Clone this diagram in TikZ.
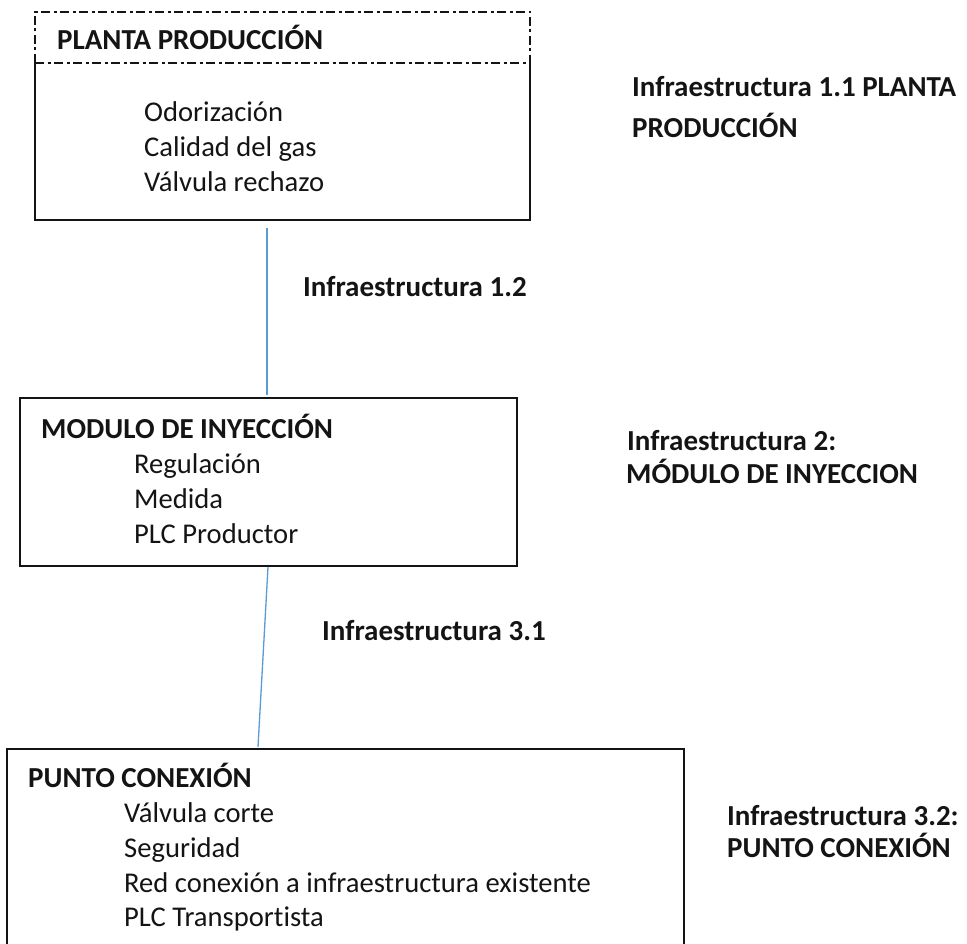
\documentclass[tikz,border=0pt]{standalone}
\usepackage{fontspec}
\setmainfont{Carlito}[Ligatures=NoCommon]
\definecolor{linkblue}{RGB}{91,155,213}
\definecolor{inkgray}{RGB}{20,20,20}
\begin{document}
\begin{tikzpicture}[x=1pt,y=-1pt,
  frame/.style={inner sep=0pt, outer sep=0pt, anchor=north west},
  edge/.style={draw=inkgray, line width=1.3pt},
  dashdot/.style={draw=inkgray, line width=1.3pt, dash pattern=on 9pt off 3.5pt on 3pt off 3.5pt},
  txt/.style={anchor=base west, inner sep=0pt, text=inkgray, font=\fontsize{28.6}{32}\selectfont},
  head/.style={anchor=base west, inner sep=0pt, text=inkgray, font=\bfseries\fontsize{29}{33}\selectfont},
  link/.style={draw=linkblue, line width=1.3pt}]
\useasboundingbox (0,0) rectangle (967,944);

% Production plant: dash-dot title strip over a solid body
\node[frame, minimum width=495pt, minimum height=51pt] (ptitle) at (35,12) {};
\node[frame, minimum width=495pt, minimum height=157pt] (pbody) at (35,63) {};
\draw[edge] (pbody.north west) -- (pbody.south west) -- (pbody.south east) -- (pbody.north east);
\draw[dashdot] (ptitle.south west) -- (ptitle.north west) -- (ptitle.north east) -- (ptitle.south east);
\draw[dashdot] (ptitle.south west) -- (ptitle.south east);
\node[head] (ptitletxt) at (57,50) {PLANTA PRODUCCIÓN};
\node[txt] (p1) at (144,122) {Odorización};
\node[txt] (p2) at (144,157) {Calidad del gas};
\node[txt] (p3) at (144,192) {Válvula rechazo};

% Injection module
\node[frame, minimum width=497pt, minimum height=168pt, draw=inkgray, line width=1.3pt] (mbody) at (20,398) {};
\node[head] (mtitle) at (41,438) {MODULO DE INYECCIÓN};
\node[txt] (m1) at (134,473) {Regulación};
\node[txt] (m2) at (134,508) {Medida};
\node[txt] (m3) at (134,543) {PLC Productor};

% Connection point (runs past the lower edge)
\node[frame, minimum width=677pt, minimum height=230pt, draw=inkgray, line width=1.3pt] (cbody) at (7,749) {};
\node[head] (ctitle) at (28,787) {PUNTO CONEXIÓN};
\node[txt] (c1) at (124,822) {Válvula corte};
\node[txt] (c2) at (124,857) {Seguridad};
\node[txt] (c3) at (124,892) {Red conexión a infraestructura existente};
\node[txt] (c4) at (124,926) {PLC Transportista};

% Links between the blocks
\coordinate (l1a) at (267,228);
\coordinate (l1b) at (267,395);
\coordinate (l2a) at (268,567);
\coordinate (l2b) at (258,747);
\draw[link] (l1a) -- (l1b);
\draw[link] (l2a) -- (l2b);
\node[head] (l1lab) at (303,296) {Infraestructura 1.2};
\node[head] (l2lab) at (322,640) {Infraestructura 3.1};

% Side captions
\node[head] (r1a) at (632,97) {Infraestructura 1.1 PLANTA};
\node[head] (r1b) at (632,138) {PRODUCCIÓN};
\node[head] (r2a) at (627,450) {Infraestructura 2:};
\node[head] (r2b) at (626,483) {MÓDULO DE INYECCION};
\node[head] (r3a) at (727,825) {Infraestructura 3.2:};
\node[head] (r3b) at (727,857) {PUNTO CONEXIÓN};
\end{tikzpicture}
\end{document}
